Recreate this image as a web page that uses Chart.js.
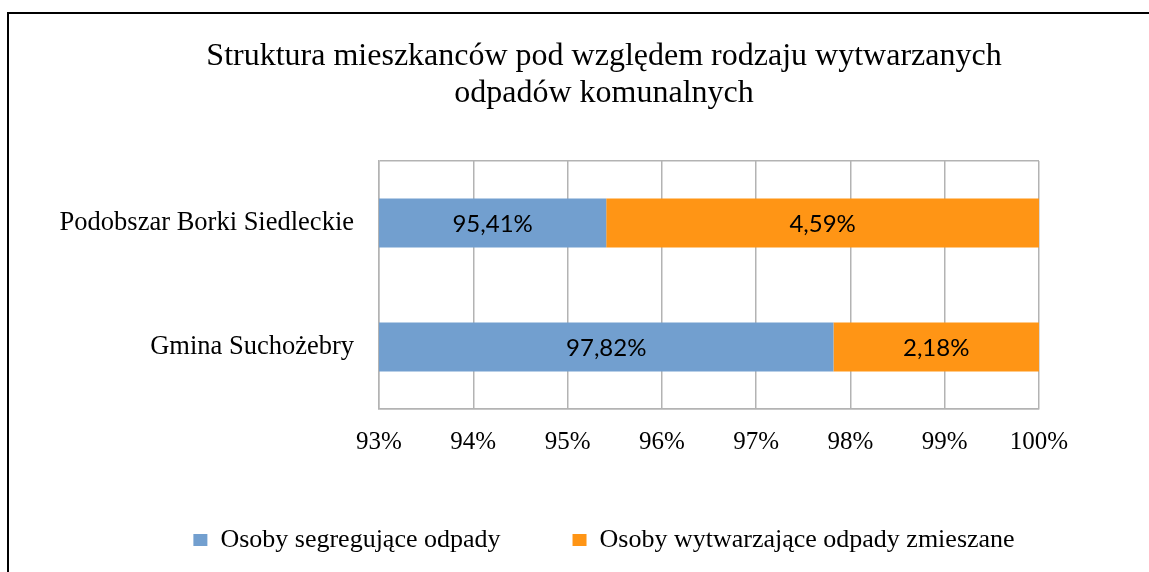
<!DOCTYPE html>
<html>
<head>
<meta charset="utf-8">
<script src="https://cdn.jsdelivr.net/npm/chart.js@4.4.1/dist/chart.umd.min.js"></script>
<style>
  html, body { margin: 0; padding: 0; background: #fff; overflow: hidden; width: 1149px; height: 572px; }
  #frame { position: absolute; left: 7px; top: 12px; width: 2000px; height: 2000px;
           border-left: 2px solid #000; border-top: 2px solid #000; box-sizing: border-box; }
  #c { position: absolute; left: 0; top: 0; }
</style>
</head>
<body>
<div id="frame"></div>
<canvas id="c" width="1208" height="572"></canvas>
<script>
const titleLines = ['Struktura mieszkanców pod względem rodzaju wytwarzanych', 'odpadów komunalnych'];
const categories = ['Podobszar Borki Siedleckie', 'Gmina Suchożebry'];
const seriesNames = ['Osoby segregujące odpady', 'Osoby wytwarzające odpady zmieszane'];
const segregating = [95.41, 97.82];
const mixed = [4.59, 2.18];
const xMin = 93;
const xMax = 100;
const tickLabels = ['93%', '94%', '95%', '96%', '97%', '98%', '99%', '100%'];

const BLUE = '#729FCF';
const ORANGE = '#FF9515';
const GRID = '#b3b3b3';
const SERIF = "'Liberation Serif', 'Times New Roman', serif";

const valueLabels = {
  id: 'valueLabels',
  afterDatasetsDraw(chart) {
    const ctx = chart.ctx;
    const area = chart.chartArea;
    ctx.save();
    ctx.font = "24px Lato";
    ctx.fillStyle = '#000';
    ctx.textAlign = 'center';
    ctx.textBaseline = 'middle';
    chart.data.datasets.forEach((ds, di) => {
      const meta = chart.getDatasetMeta(di);
      meta.data.forEach((el, i) => {
        const p = el.getProps(['x', 'y', 'base'], true);
        const l = Math.max(Math.min(p.x, p.base), area.left);
        const r = Math.min(Math.max(p.x, p.base), area.right);
        const txt = ds.data[i].toFixed(2).replace('.', ',') + '%';
        ctx.fillText(txt, (l + r) / 2, p.y + 1);
      });
    });
    ctx.restore();
  }
};

new Chart(document.getElementById('c'), {
  type: 'bar',
  data: {
    labels: categories,
    datasets: [
      { label: seriesNames[0], data: segregating, backgroundColor: BLUE, borderWidth: 0,
        categoryPercentage: 1, barPercentage: 0.395 },
      { label: seriesNames[1], data: mixed, backgroundColor: ORANGE, borderWidth: 0,
        categoryPercentage: 1, barPercentage: 0.395 }
    ]
  },
  options: {
    indexAxis: 'y',
    responsive: false,
    animation: false,
    layout: { padding: { top: 0, left: 0, right: 0, bottom: 9 } },
    scales: {
      x: {
        stacked: true,
        min: xMin, max: xMax,
        grid: { color: GRID, lineWidth: 1.5, drawTicks: false },
        border: { display: true, color: GRID, width: 1.5 },
        ticks: {
          stepSize: 1,
          padding: 18,
          color: '#000',
          font: { family: SERIF, size: 25 },
          callback: (v, i) => tickLabels[i]
        },
        afterFit: (s) => { s.height = 46; }
      },
      y: {
        stacked: true,
        grid: {
          color: (c) => (c.index === 1 ? 'rgba(0,0,0,0)' : GRID),
          lineWidth: 1.5, drawTicks: false
        },
        border: { display: true, color: GRID, width: 1.5 },
        ticks: { padding: 25, color: '#000', font: { family: SERIF, size: 26.5 } },
        afterFit: (s) => { s.width = 379; }
      },
      yRight: {
        type: 'category',
        position: 'right',
        grid: { display: false, drawTicks: false },
        border: { display: false },
        ticks: { display: false },
        afterFit: (s) => { s.width = 169; }
      }
    },
    plugins: {
      title: {
        display: true,
        text: titleLines,
        color: '#000',
        font: { family: SERIF, size: 32, weight: 'normal', lineHeight: 1.15 },
        padding: { top: 38, bottom: 49.4 }
      },
      legend: {
        position: 'bottom',
        labels: {
          color: '#000',
          font: { family: SERIF, size: 26 },
          boxWidth: 14,
          boxHeight: 12,
          padding: 72
        }
      },
      tooltip: { enabled: false }
    }
  },
  plugins: [valueLabels]
});
</script>
</body>
</html>
